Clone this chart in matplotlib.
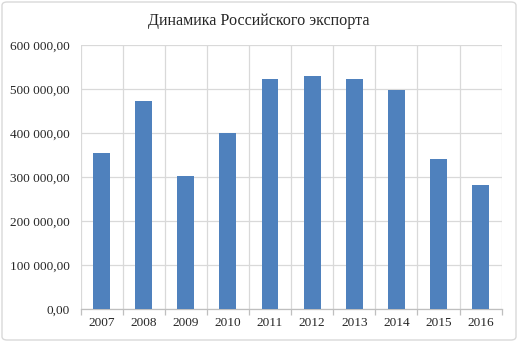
import matplotlib
matplotlib.use("Agg")
import matplotlib.pyplot as plt
from matplotlib.patches import FancyBboxPatch
from matplotlib.ticker import FuncFormatter, FixedLocator

years = ["2007", "2008", "2009", "2010", "2011", "2012", "2013", "2014", "2015", "2016"]
export = [354400, 471600, 303400, 400600, 522000, 529300, 521800, 497800, 341400, 281900]
title = "Динамика Российского экспорта"

plt.rcParams['font.family'] = ['Liberation Serif', 'DejaVu Serif']

fig = plt.figure(figsize=(5.18, 3.42), dpi=100)
ax = fig.add_axes([80.5/518, 1 - 309/342, (501.7 - 80.5)/518, (309 - 45)/342])

x = list(range(len(years)))
ax.bar(x, export, width=0.4, color="#4F81BD", zorder=3)

ax.set_xlim(-0.5, len(years) - 0.5)
ax.set_ylim(0, 600000)
ax.yaxis.set_major_locator(FixedLocator([0, 100000, 200000, 300000, 400000, 500000, 600000]))

def fmt(v, pos):
    s = f"{int(round(v)):,}".replace(",", " ")
    return s + ",00"
ax.yaxis.set_major_formatter(FuncFormatter(fmt))

ax.set_xticks(x)
ax.set_xticklabels(years)
ax.set_xticks([i - 0.5 for i in range(len(years) + 1)], minor=True)

ax.grid(axis='y', color="#D9D9D9", linewidth=0.9, zorder=0)
ax.grid(axis='x', which='minor', color="#D9D9D9", linewidth=0.9, zorder=0)
ax.grid(axis='x', which='major', visible=False)

for s in ['top', 'right', 'left']:
    ax.spines[s].set_visible(False)
ax.spines['bottom'].set_color("#BFBFBF")
ax.spines['bottom'].set_linewidth(0.9)

ax.tick_params(axis='y', length=0, labelsize=9.5, pad=8, labelcolor="#262626")
ax.tick_params(axis='x', which='major', length=0, labelsize=9.5, pad=6, labelcolor="#262626")
ax.tick_params(axis='x', which='minor', length=4, color="#BFBFBF", width=0.9)

fig.text(259/518, 1 - 21/342, title, ha='center', va='center', fontsize=11.6, color="#262626")

border = FancyBboxPatch((2/518, 2/342), 1 - 4/518, 1 - 4/342,
                        boxstyle="round,pad=0,rounding_size=0.01",
                        transform=fig.transFigure, fill=False,
                        edgecolor="#D9D9D9", linewidth=1.0)
fig.patches.append(border)

fig.savefig("out.png", dpi=100)
